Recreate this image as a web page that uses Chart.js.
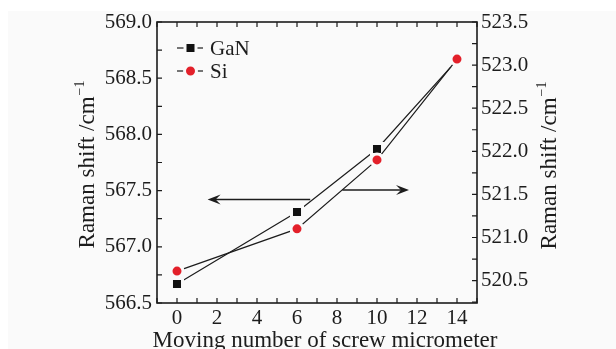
<!DOCTYPE html>
<html>
<head>
<meta charset="utf-8">
<script src="https://cdn.jsdelivr.net/npm/chart.js@4.4.1/dist/chart.umd.min.js"></script>
<style>
  html, body { margin: 0; padding: 0; background: #fff; }
  #wrap { width: 616px; height: 349px; }
</style>
</head>
<body>
<div id="wrap"><canvas id="ramanChart" width="616" height="349"></canvas></div>
<script>
// data
const moveSteps = [0, 6, 10, 14];
const ganShift = [566.67, 567.31, 567.87, 568.66];   // left axis
const siShift = [520.61, 521.10, 521.90, 523.07];    // right axis
const xTicks = [0, 2, 4, 6, 8, 10, 12, 14];
const leftTicks = [566.5, 567.0, 567.5, 568.0, 568.5, 569.0];
const rightTicks = [520.5, 521.0, 521.5, 522.0, 522.5, 523.0, 523.5];

// the two arrows pointing at each series' axis (data units)
const arrows = [
  { scale: 'y', from: 6.66, to: 1.53, at: 567.42 },
  { scale: 'y1', from: 8.27, to: 11.6, at: 521.55 }
];

const FONT = "'Liberation Serif', 'Times New Roman', serif";
const INK = '#1c1c1c';
const PAPER = '#fafafa';
const SI_RED = '#e3202a';

function toPoints(xs, ys) {
  return xs.map((x, i) => ({ x: x, y: ys[i] }));
}

function drawMarker(ctx, style, x, y, color) {
  ctx.save();
  ctx.fillStyle = color;
  ctx.strokeStyle = PAPER;
  ctx.lineWidth = 3;
  ctx.beginPath();
  if (style === 'rect') {
    ctx.rect(x - 5.5, y - 5.5, 11, 11);
  } else {
    ctx.arc(x, y, 6, 0, Math.PI * 2);
  }
  ctx.fill();
  ctx.stroke();
  ctx.restore();
}

function drawArrow(ctx, x0, x1, y) {
  const dir = x1 > x0 ? 1 : -1;
  ctx.beginPath();
  ctx.moveTo(x0, y);
  ctx.lineTo(x1 - dir * 6, y);
  ctx.stroke();
  ctx.beginPath();
  ctx.moveTo(x1, y);
  ctx.lineTo(x1 - dir * 13, y - 5);
  ctx.lineTo(x1 - dir * 8, y);
  ctx.lineTo(x1 - dir * 13, y + 5);
  ctx.closePath();
  ctx.fill();
}

function drawTitle(ctx, text, cx, cy, rotate) {
  ctx.save();
  ctx.translate(cx, cy);
  if (rotate) ctx.rotate(-Math.PI / 2);
  ctx.fillStyle = INK;
  ctx.textBaseline = 'alphabetic';
  ctx.font = '23px ' + FONT;
  const w1 = ctx.measureText(text).width;
  let w2 = 0;
  if (rotate) {
    ctx.font = '14px ' + FONT;
    w2 = ctx.measureText('\u22121').width;
  }
  const start = -(w1 + w2) / 2;
  ctx.font = '23px ' + FONT;
  ctx.textAlign = 'left';
  ctx.fillText(text, start, 8);
  if (rotate) {
    ctx.font = '14px ' + FONT;
    ctx.fillText('\u22121', start + w1 + 1, -2);
  }
  ctx.restore();
}

const paperPlugin = {
  id: 'paper',
  beforeDraw(chart) {
    const ctx = chart.ctx;
    ctx.save();
    ctx.fillStyle = '#fff';
    ctx.fillRect(0, 0, chart.width, chart.height);
    ctx.fillStyle = PAPER;
    ctx.fillRect(8, 11, chart.width - 8, chart.height - 11);
    ctx.restore();
  }
};

const framePlugin = {
  id: 'frame',
  afterDraw(chart) {
    const { ctx, chartArea: a, scales } = chart;
    const x = scales.x, yl = scales.y, yr = scales.y1;
    ctx.save();
    ctx.strokeStyle = INK;
    ctx.fillStyle = INK;

    // ticks pointing inwards, every integer on x, every 0.25 on y
    ctx.lineWidth = 1.2;
    ctx.beginPath();
    for (let v = Math.ceil(x.min); v <= x.max; v += 1) {
      const px = x.getPixelForValue(v);
      ctx.moveTo(px, a.bottom); ctx.lineTo(px, a.bottom - 5);
      ctx.moveTo(px, a.top); ctx.lineTo(px, a.top + 5);
    }
    for (let v = Math.ceil(yl.min * 4) / 4; v <= yl.max + 1e-9; v += 0.25) {
      const py = yl.getPixelForValue(v);
      ctx.moveTo(a.left, py); ctx.lineTo(a.left + 5, py);
    }
    for (let v = Math.ceil(yr.min * 4) / 4; v <= yr.max + 1e-9; v += 0.25) {
      const py = yr.getPixelForValue(v);
      ctx.moveTo(a.right, py); ctx.lineTo(a.right - 5, py);
    }
    ctx.stroke();

    ctx.lineWidth = 1.6;
    ctx.strokeRect(a.left, a.top, a.right - a.left, a.bottom - a.top);

    // arrows
    ctx.lineWidth = 1.5;
    arrows.forEach(ar => {
      const sy = scales[ar.scale];
      drawArrow(ctx, x.getPixelForValue(ar.from), x.getPixelForValue(ar.to), sy.getPixelForValue(ar.at));
    });

    // legend in the upper left corner
    const items = [
      { label: 'GaN', style: 'rect', color: '#111' },
      { label: 'Si', style: 'circle', color: SI_RED }
    ];
    items.forEach((it, i) => {
      const ly = 48 + i * 23;
      ctx.lineWidth = 1.2;
      ctx.strokeStyle = INK;
      ctx.beginPath();
      ctx.moveTo(177, ly); ctx.lineTo(203, ly);
      ctx.stroke();
      drawMarker(ctx, it.style, 190.5, ly, it.color);
      ctx.fillStyle = INK;
      ctx.font = '21px ' + FONT;
      ctx.textBaseline = 'middle';
      ctx.textAlign = 'left';
      ctx.fillText(it.label, 210, ly + 1);
    });

    // axis titles
    drawTitle(ctx, 'Raman shift /cm', 86, 165, true);
    drawTitle(ctx, 'Raman shift /cm', 548, 166, true);
    drawTitle(ctx, 'Moving number of screw micrometer', 325, 339, false);
    ctx.restore();
  }
};

const tickFont = { family: FONT, size: 21 };

const ramanChart = new Chart(document.getElementById('ramanChart'), {
  type: 'line',
  data: {
    datasets: [
      {
        label: 'GaN',
        data: toPoints(moveSteps, ganShift),
        yAxisID: 'y',
        order: 1,
        borderColor: INK,
        borderWidth: 1.2,
        pointStyle: 'rect',
        pointRadius: 7.8,
        pointBackgroundColor: '#111',
        pointBorderColor: PAPER,
        pointBorderWidth: 3,
        tension: 0
      },
      {
        label: 'Si',
        data: toPoints(moveSteps, siShift),
        yAxisID: 'y1',
        order: 0,
        borderColor: INK,
        borderWidth: 1.2,
        pointStyle: 'circle',
        pointRadius: 6,
        pointBackgroundColor: SI_RED,
        pointBorderColor: PAPER,
        pointBorderWidth: 3,
        tension: 0
      }
    ]
  },
  options: {
    responsive: false,
    animation: false,
    layout: { padding: { top: 22, left: 0, right: 0, bottom: 0 } },
    plugins: { legend: { display: false }, tooltip: { enabled: false } },
    scales: {
      x: {
        type: 'linear',
        min: -1, max: 15,
        grid: { display: false, drawTicks: false },
        border: { display: false },
        afterBuildTicks: s => { s.ticks = xTicks.map(v => ({ value: v })); },
        afterFit: s => { s.height = 46; },
        ticks: { font: tickFont, color: INK, padding: 3, maxRotation: 0 }
      },
      y: {
        position: 'left',
        min: 566.5, max: 569.0,
        grid: { display: false, drawTicks: false },
        border: { display: false },
        afterBuildTicks: s => { s.ticks = leftTicks.map(v => ({ value: v })); },
        afterFit: s => { s.width = 157; },
        ticks: { font: tickFont, color: INK, padding: 5, callback: v => v.toFixed(1) }
      },
      y1: {
        position: 'right',
        min: 520.24, max: 523.5,
        grid: { display: false, drawTicks: false },
        border: { display: false },
        afterBuildTicks: s => { s.ticks = rightTicks.map(v => ({ value: v })); },
        afterFit: s => { s.width = 139; },
        ticks: { font: tickFont, color: INK, padding: 4, callback: v => v.toFixed(1) }
      }
    }
  },
  plugins: [paperPlugin, framePlugin]
});
</script>
</body>
</html>
